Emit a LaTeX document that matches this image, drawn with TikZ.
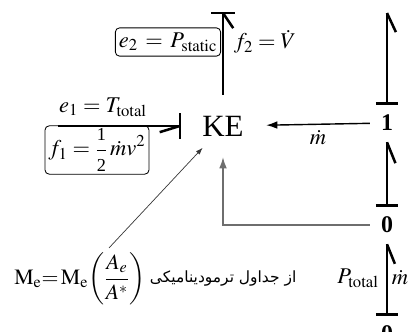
\documentclass[tikz,border=0pt]{standalone}
\usepackage{mathptmx}
\usepackage{fontspec}
\setmainfont{Liberation Serif}
\newfontfamily\persianfont[Script=Arabic]{DejaVu Sans}
\TeXXeTstate=1
\usetikzlibrary{arrows.meta,shapes.geometric}
\definecolor{FlowGray}{RGB}{110,110,110}
\definecolor{LinkGray}{RGB}{55,55,55}

\begin{document}
\begin{tikzpicture}[
  x=0.025cm, y=-0.025cm,
  bond/.style={line width=1.8pt},
  junction/.style={inner sep=0pt, minimum width=24pt, minimum height=27pt,
    font=\fontsize{17}{19}\selectfont\bfseries},
  labelbox/.style={draw, line width=0.6pt, rounded corners=3pt, inner xsep=2.5pt, inner ysep=3.5pt},
  lbl/.style={font=\fontsize{16}{19}\selectfont}
]
\useasboundingbox (0,0) rectangle (409,331);

\node[ellipse, inner sep=0pt, minimum width=61pt, minimum height=44pt,
  font=\fontsize{22}{26}\selectfont] (ke) at (223,126) {KE};
\node[junction] (one) at (387,123) {1};
\node[junction] (zeroA) at (387,225) {0};
\node[junction] (zeroB) at (387,334) {0};
\coordinate (topB) at (223,13);
\coordinate (leftB) at (58,126);
\coordinate (rtop) at (387,13);

% bonds of KE
\draw[bond] (ke.north) -- (topB);
\draw[bond] ([xshift=-8.5pt]topB) -- ([xshift=8.5pt]topB);
\draw[bond] (topB) -- ++(-56:13pt);
\draw[bond] (leftB) -- (ke.west);
\draw[bond] ([yshift=-9pt]ke.west) -- ([yshift=9pt]ke.west);
\draw[bond] (ke.west) -- ++(197:15pt);

% bonds of the junctions
\draw[bond] (one.north) -- (rtop);
\draw[bond] ([xshift=-8pt]one.north) -- ([xshift=8pt]one.north);
\draw[bond] (rtop) -- ++(-65:15pt);
\draw[bond] (zeroA.north) -- (one.south);
\draw[bond] ([xshift=-8pt]zeroA.north) -- ([xshift=8pt]zeroA.north);
\draw[bond] (one.south) -- ++(-68:16pt);
\draw[bond] (zeroB.north) -- (zeroA.south);
\draw[bond] ([xshift=-8pt]zeroB.north) -- ([xshift=8pt]zeroB.north);
\draw[bond] (zeroA.south) -- ++(-68:15pt);

\node[lbl] (e1) at (103,107) {$e_1 = T_{\mathrm{total}}$};
\node[lbl, labelbox, inner ysep=2pt] (f1) at (97,150)
  {$f_1 = \displaystyle\frac{\mbox{\fontsize{13}{15}\selectfont 1}}{\mbox{\fontsize{13}{15}\selectfont 2}}\,\dot m v^2$};
\node[lbl, labelbox] (e2) at (168,42) {$e_2 \,=\, P_{\mathrm{static}}$};
\node[lbl] (f2) at (265,42) {$f_2 = \dot V$};
\node[lbl] (mflow) at (318,138) {$\dot m$};
\node[lbl] (ptot) at (358,278) {$P_{\mathrm{total}}$};
\node[lbl] (mlow) at (400,278) {$\dot m$};

\node[font=\fontsize{15.5}{18}\selectfont] (me) at (80,279)
  {$\mathrm{M}_{\mathrm{e}}\!\!=\!\mathrm{M}_{\mathrm{e}}{\left(\displaystyle\frac{A_e}{A^*}\right)}$};
\node[anchor=west, font=\persianfont\fontsize{11}{13}\selectfont] (tables) at (145,279)
  {\beginR از جداول ترمودینامیکی\endR};

\draw[line width=1pt, -{Latex[length=8pt,width=5.5pt]}] (one) -- (ke);
\draw[FlowGray, line width=0.9pt, -{Latex[length=8pt,width=5.5pt]}] (zeroA) -| (ke.south);
\draw[LinkGray, line width=0.5pt, shorten >=-4pt, -{Latex[length=5pt,width=3.5pt]}] (me) -- (ke);
\end{tikzpicture}
\end{document}
